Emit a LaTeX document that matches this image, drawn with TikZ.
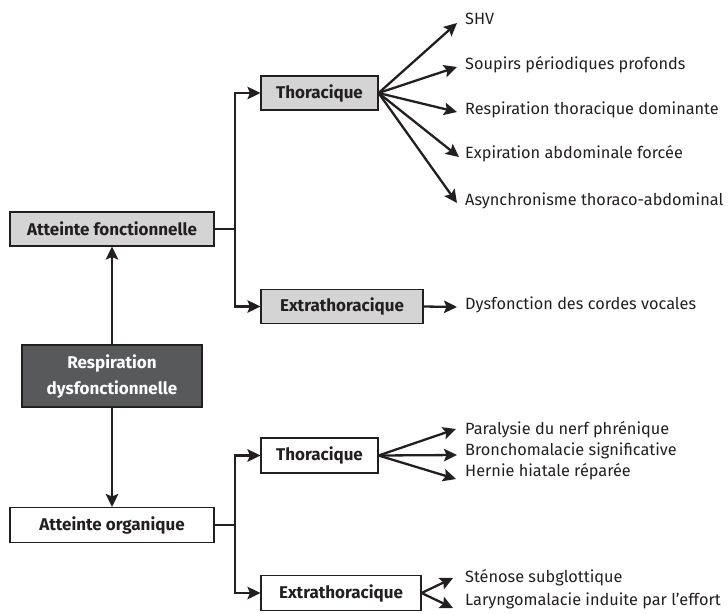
\documentclass[tikz,border=0pt]{standalone}
\usepackage{fontspec}
\setmainfont{Fira Sans}
\usetikzlibrary{arrows.meta}
\definecolor{ink}{HTML}{231F20}
\definecolor{lightbox}{HTML}{D4D4D4}
\definecolor{darkbox}{HTML}{58595B}
\tikzset{
  box/.style={draw=ink, line width=1.1pt, font=\fontsize{17}{20}\selectfont\bfseries, text=ink, align=center, inner sep=0pt},
  greybox/.style={box, fill=lightbox},
  whitebox/.style={box, fill=white},
  item/.style={anchor=mid west, inner sep=0pt, font=\fontsize{16.3}{18}\selectfont, text=ink},
  conn/.style={draw=ink, line width=2.3pt},
  arr/.style={conn, -{Stealth[length=13pt,width=12.5pt,inset=2.5pt]}},
}
\begin{document}
\begin{tikzpicture}[x=1pt,y=-1pt]
\useasboundingbox (0,0) rectangle (728,613);
% main boxes
\node[greybox, minimum width=204, minimum height=34] (fonc) at (112,229) {Atteinte fonctionnelle};
\node[box, fill=darkbox, text=white, minimum width=180, minimum height=62, font=\fontsize{17}{26}\selectfont\bfseries] (resp) at (112,376) {Respiration\\dysfonctionnelle};
\node[whitebox, minimum width=204, minimum height=35] (org) at (112,525) {Atteinte organique};
% second level
\node[greybox, minimum width=117, minimum height=34] (thA) at (319.5,93) {Thoracique};
\node[greybox, minimum width=162, minimum height=34] (exA) at (342,306.5) {Extrathoracique};
\node[whitebox, minimum width=117, minimum height=35] (thB) at (319.5,455.5) {Thoracique};
\node[whitebox, minimum width=160, minimum height=35] (exB) at (341,593) {Extrathoracique};
% junctions
\coordinate (jA) at (235,229);
\coordinate (jB) at (235,525);
% items
\node[item] (i1) at (465,22) {SHV};
\node[item] (i2) at (465,67) {Soupirs périodiques profonds};
\node[item] (i3) at (465,112) {Respiration thoracique dominante};
\node[item] (i4) at (465,156) {Expiration abdominale forcée};
\node[item] (i5) at (465,203) {Asynchronisme thoraco-abdominal};
\node[item] (i6) at (465,307) {Dysfonction des cordes vocales};
\node[item] (i7) at (465,432) {Paralysie du nerf phrénique};
\node[item] (i8) at (465,453) {Bronchomalacie significative};
\node[item] (i9) at (465,474) {Hernie hiatale réparée};
\node[item] (i10) at (465,580) {Sténose subglottique};
\node[item] (i11) at (465,603) {Laryngomalacie induite par l’effort};
% arrow tips
\coordinate (t1) at (457,23);
\coordinate (t2) at (457,67);
\coordinate (t3) at (457,112);
\coordinate (t4) at (459,157);
\coordinate (t5) at (457,203);
\coordinate (t6) at (457,307);
\coordinate (t7) at (456,429);
\coordinate (t8) at (457,455);
\coordinate (t9) at (456,479);
\coordinate (t10) at (453,578);
\coordinate (t11) at (453,608);
% connectors
\draw[arr] (resp.north) -- (fonc.south);
\draw[arr] (resp.south) -- (org.north);
\draw[conn] (fonc.east) -- (jA);
\draw[arr] (jA) |- (thA.west);
\draw[arr] (jA) |- (exA.west);
\draw[conn] (org.east) -- (jB);
\draw[arr] (jB) |- (thB.west);
\draw[arr] (jB) |- (exB.west);
\foreach \t in {t1,t2,t3,t4,t5} \draw[arr] (thA.east) -- (\t);
\draw[arr] (exA.east) -- (t6);
\foreach \t in {t7,t8,t9} \draw[arr] (thB.east) -- (\t);
\foreach \t in {t10,t11} \draw[arr] (exB.east) -- (\t);
\end{tikzpicture}
\end{document}
